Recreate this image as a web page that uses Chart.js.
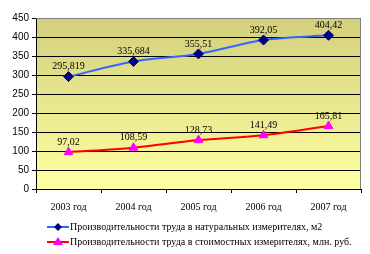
<!DOCTYPE html>
<html lang="ru">
<head>
<meta charset="UTF-8">
<title>Производительность труда</title>
<style>
  html, body { margin: 0; padding: 0; background: #fff; }
  #wrap { width: 370px; height: 254px; }
</style>
<script src="https://cdn.jsdelivr.net/npm/chart.js"></script>
</head>
<body>
<div id="wrap"><canvas id="chart" width="370" height="254"></canvas></div>
<script>
const years = ['2003 год', '2004 год', '2005 год', '2006 год', '2007 год'];
const natural = [295.819, 335.684, 355.51, 392.05, 404.42];
const cost = [97.02, 108.59, 128.73, 141.49, 165.81];
const seriesNames = [
  'Производительности труда в натуральных измерителях, м2',
  'Производительности труда в стоимостных измерителях, млн. руб.'
];
const yTicks = [0, 50, 100, 150, 200, 250, 300, 350, 400, 450];

const FONT = '"Liberation Serif", "Times New Roman", serif';
const SANS = '"Liberation Sans", Arial, sans-serif';

// gradient plot background + frame
const plotBg = {
  id: 'plotBg',
  beforeDraw(chart) {
    const { ctx, chartArea: a } = chart;
    const g = ctx.createLinearGradient(0, a.top, 0, a.bottom);
    g.addColorStop(0, '#d3cf7c');
    g.addColorStop(1, '#ffffa2');
    ctx.save();
    ctx.fillStyle = g;
    ctx.fillRect(a.left, a.top, a.right - a.left, a.bottom - a.top);
    ctx.restore();
  },
  afterDatasetsDraw(chart) {
    const { ctx, chartArea: a } = chart;
    ctx.save();
    ctx.strokeStyle = '#808080';
    ctx.lineWidth = 1;
    ctx.beginPath();
    ctx.moveTo(a.left, a.top + 0.5);
    ctx.lineTo(a.right - 0.5, a.top + 0.5);
    ctx.lineTo(a.right - 0.5, a.bottom);
    ctx.stroke();
    ctx.restore();
  }
};

// numbers above points
const pointLabels = {
  id: 'pointLabels',
  afterDatasetsDraw(chart) {
    const { ctx } = chart;
    ctx.save();
    ctx.font = '10px ' + FONT;
    ctx.fillStyle = '#000';
    ctx.textAlign = 'center';
    ctx.textBaseline = 'bottom';
    chart.data.datasets.forEach((ds, i) => {
      chart.getDatasetMeta(i).data.forEach((pt, j) => {
        const txt = String(ds.data[j]).replace('.', ',');
        ctx.fillText(txt, pt.x, pt.y - 5);
      });
    });
    ctx.restore();
  }
};

// legend with line + marker sample
const lineLegend = {
  id: 'lineLegend',
  afterDraw(chart) {
    const { ctx } = chart;
    ctx.save();
    ctx.font = '10px ' + FONT;
    ctx.textBaseline = 'middle';
    ctx.textAlign = 'left';
    chart.data.datasets.forEach((ds, i) => {
      const y = 227 + i * 15;
      const x0 = 47, x1 = 69;
      ctx.strokeStyle = ds.borderColor;
      ctx.lineWidth = 2;
      ctx.beginPath();
      ctx.moveTo(x0, y);
      ctx.lineTo(x1, y);
      ctx.stroke();
      ctx.fillStyle = ds.pointBackgroundColor;
      ctx.beginPath();
      if (ds.pointStyle === 'triangle') {
        ctx.moveTo(58, y - 5);
        ctx.lineTo(63, y + 3);
        ctx.lineTo(53, y + 3);
      } else {
        ctx.moveTo(58, y - 4);
        ctx.lineTo(62, y);
        ctx.lineTo(58, y + 4);
        ctx.lineTo(54, y);
      }
      ctx.closePath();
      ctx.fill();
      ctx.fillStyle = '#000';
      ctx.fillText(ds.label, x1 + 1, y);
    });
    ctx.restore();
  }
};

new Chart(document.getElementById('chart'), {
  type: 'line',
  data: {
    labels: years,
    datasets: [
      {
        label: seriesNames[0],
        data: natural,
        borderColor: '#3366ff',
        borderWidth: 2,
        tension: 0.3,
        pointStyle: 'rectRot',
        pointRadius: 5,
        pointBackgroundColor: '#000080',
        pointBorderColor: '#000080',
        pointBorderWidth: 1
      },
      {
        label: seriesNames[1],
        data: cost,
        borderColor: '#ff0000',
        borderWidth: 2,
        tension: 0.3,
        pointStyle: 'triangle',
        pointRadius: 5,
        pointBackgroundColor: '#ff00ff',
        pointBorderColor: '#ff00ff',
        pointBorderWidth: 1
      }
    ]
  },
  options: {
    responsive: false,
    animation: false,
    devicePixelRatio: 1,
    layout: { padding: { top: 18, right: 9, left: 0, bottom: 36 } },
    plugins: {
      legend: { display: false },
      tooltip: { enabled: false }
    },
    scales: {
      x: {
        offset: true,
        grid: {
          offset: true,
          drawOnChartArea: false,
          color: '#000',
          tickLength: 4
        },
        border: { color: '#000', width: 1 },
        ticks: {
          color: '#000',
          font: { family: FONT, size: 10 },
          padding: 8,
          maxRotation: 0
        },
        afterFit(s) { s.height = 29; }
      },
      y: {
        min: 0,
        max: 450,
        afterBuildTicks(s) { s.ticks = yTicks.map(v => ({ value: v })); },
        grid: { color: '#000', tickLength: 4 },
        border: { color: '#000', width: 1 },
        ticks: {
          color: '#000',
          font: { family: SANS, size: 10 },
          padding: 3
        },
        afterFit(s) { s.width = 36; }
      }
    }
  },
  plugins: [plotBg, pointLabels, lineLegend]
});
</script>
</body>
</html>
